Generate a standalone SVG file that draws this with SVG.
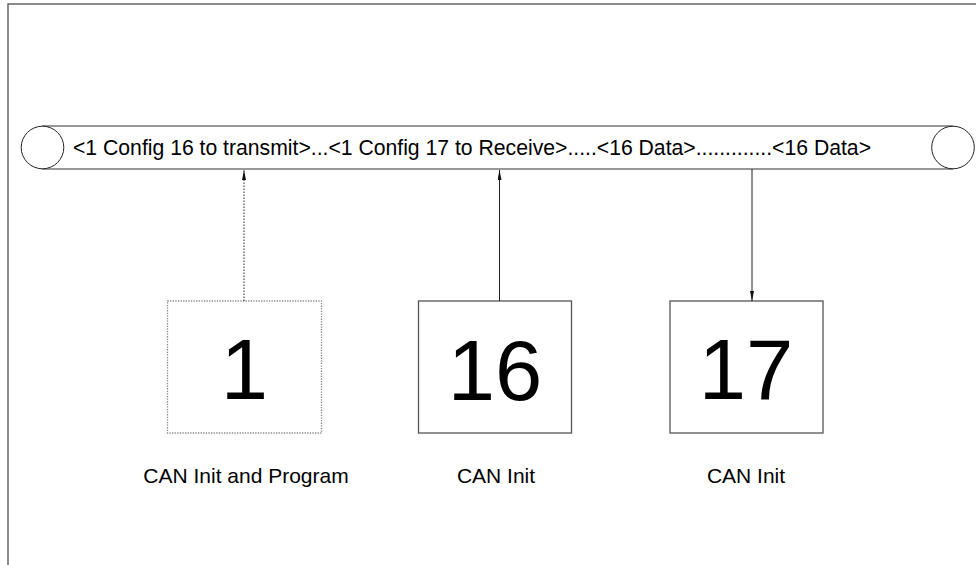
<svg xmlns="http://www.w3.org/2000/svg" width="976" height="565" viewBox="0 0 976 565">
<defs>
<style>
text{font-family:"Liberation Sans",Arial,sans-serif;fill:#000}
.lbl{font-size:21px;text-anchor:middle}
.num{font-size:85px;text-anchor:middle}
.box{fill:#fff;stroke:#555;stroke-width:1.3}
.dot{stroke-dasharray:1.3 1.3;stroke:#888}
.line{stroke:#222;stroke-width:1;fill:none}
</style>
<marker id="ah" viewBox="0 0 10 4" refX="10" refY="2" markerWidth="10" markerHeight="4" markerUnits="userSpaceOnUse" orient="auto">
<path d="M0,0 L10,2 L0,4 Z" fill="#111"/>
</marker>
</defs>
<rect width="976" height="565" fill="#fff"/>
<g id="frame" fill="none" stroke="#666" stroke-width="1.5">
<path d="M8,565 V4 H976"/>
</g>
<g id="bus">
<path d="M42,126 H953 M42,169 H953" stroke="#333" stroke-width="1.2" fill="none"/>
<circle cx="42.5" cy="147.5" r="21.3" fill="#fff" stroke="#222" stroke-width="1"/>
<circle cx="953" cy="147.5" r="21.3" fill="#fff" stroke="#222" stroke-width="1"/>
<text x="73" y="155" style="font-size:21.2px" textLength="798" lengthAdjust="spacing">&lt;1 Config 16 to transmit&gt;...&lt;1 Config 17 to Receive&gt;.....&lt;16 Data&gt;.............&lt;16 Data&gt;</text>
</g>
<g id="node1">
<rect class="box dot" x="167.5" y="301" width="154" height="132"/>
<text class="num" x="244.5" y="399">1</text>
<text class="lbl" x="246" y="483">CAN Init and Program</text>
</g>
<g id="node16">
<rect class="box" x="418.5" y="301" width="153" height="132"/>
<text class="num" x="495" y="400">16</text>
<text class="lbl" x="496" y="483">CAN Init</text>
</g>
<g id="node17">
<rect class="box" x="670" y="301" width="153" height="132"/>
<text class="num" x="746" y="399">17</text>
<text class="lbl" x="746" y="483">CAN Init</text>
</g>
<g id="connectors">
<line class="line" x1="244" y1="301" x2="244" y2="170" stroke-dasharray="1.5 1.5" stroke="#333" marker-end="url(#ah)"/>
<line class="line" x1="499.5" y1="301" x2="499.5" y2="170" marker-end="url(#ah)"/>
<line class="line" x1="752" y1="169" x2="752" y2="301" marker-end="url(#ah)"/>
</g>
</svg>
